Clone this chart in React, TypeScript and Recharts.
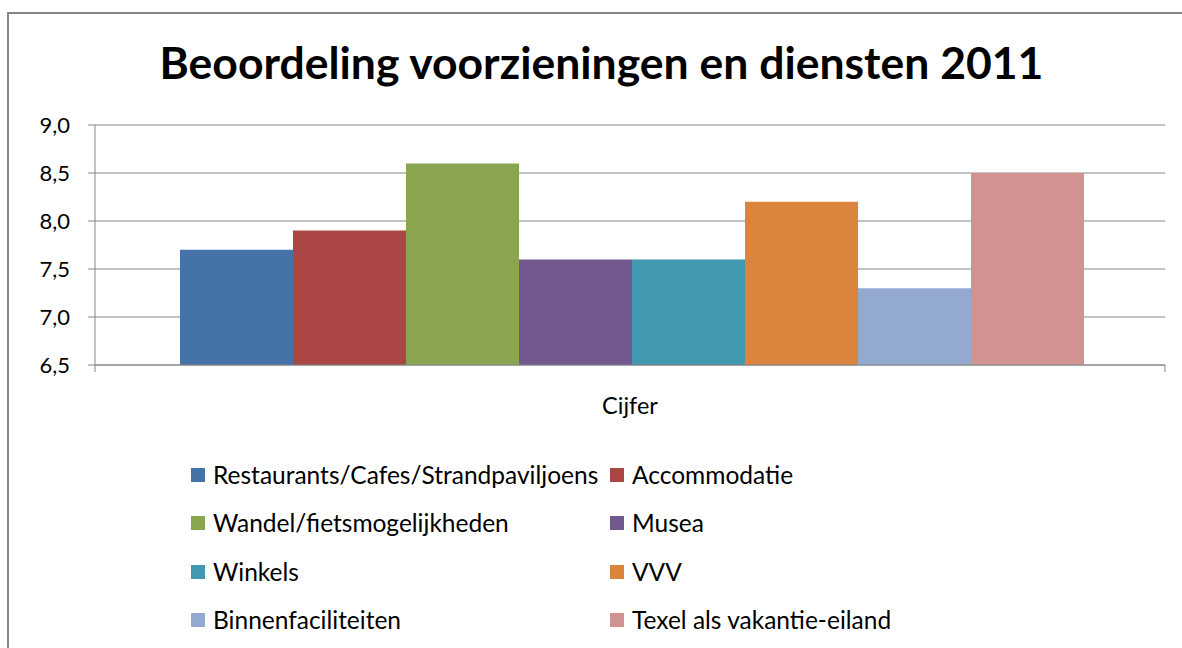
import React from 'react';
import { BarChart, Bar, XAxis, YAxis, CartesianGrid, Legend } from 'recharts';

const categories = ['Cijfer'];
const seriesNames = [
  'Restaurants/Cafes/Strandpaviljoens',
  'Accommodatie',
  'Wandel/fietsmogelijkheden',
  'Musea',
  'Winkels',
  'VVV',
  'Binnenfaciliteiten',
  'Texel als vakantie-eiland',
];
const seriesValues = [7.7, 7.9, 8.6, 7.6, 7.6, 8.2, 7.3, 8.5];
const seriesColors = ['#4572A7', '#AA4643', '#89A54E', '#71588F', '#4198AF', '#DB843D', '#93A9CF', '#D19392'];
const yTicks = [6.5, 7.0, 7.5, 8.0, 8.5, 9.0];
const title = 'Beoordeling voorzieningen en diensten 2011';

const keys = seriesNames.map((_, i) => `s${i}`);
const data = categories.map((c) => {
  const row: Record<string, any> = { name: c };
  keys.forEach((k, i) => {
    row[k] = seriesValues[i];
  });
  return row;
});

const FONT = 'Lato, "Open Sans", sans-serif';
const GRAY = '#868686';
const W = 1182;
const H = 648;

const CategoryTick = (props: any) => {
  const { x, y, payload, width } = props;
  const half = typeof width === 'number' ? width / 2 : 0;
  return (
    <g>
      <line x1={x - half} y1={y} x2={x - half} y2={y + 7} stroke={GRAY} strokeWidth={1} />
      <line x1={x + half} y1={y} x2={x + half} y2={y + 7} stroke={GRAY} strokeWidth={1} />
      <text x={x} y={y + 49} textAnchor="middle" fill="#000" fontSize={23.5} fontFamily={FONT}>
        {payload.value}
      </text>
    </g>
  );
};

const LEG_LEFT = 191;
const LEG_TOP = 460;
const colX = [0, 419];
const rowY = [0, 48.3, 96.6, 144.9];

const LegendContent = (props: any) => {
  const payload = [...(props.payload || [])].sort(
    (a: any, b: any) => seriesNames.indexOf(a.value) - seriesNames.indexOf(b.value)
  );
  return (
    <div style={{ position: 'relative', width: 900, height: 200 }}>
      {payload.map((entry: any, i: number) => (
        <div
          key={i}
          style={{
            position: 'absolute',
            left: colX[i % 2],
            top: rowY[Math.floor(i / 2)],
            height: 30,
            display: 'flex',
            alignItems: 'center',
            whiteSpace: 'nowrap',
          }}
        >
          <span style={{ display: 'inline-block', width: 14, height: 14, background: entry.color, marginRight: 8 }} />
          <span style={{ fontFamily: FONT, fontSize: 24.5, lineHeight: '24px', color: '#000' }}>{entry.value}</span>
        </div>
      ))}
    </div>
  );
};

export default function App() {
  return (
    <div style={{ position: 'fixed', left: 0, top: 0, width: W, height: H, overflow: 'hidden', background: '#fff' }}>
      <div
        style={{
          position: 'absolute',
          left: 7,
          top: 12,
          width: 1200,
          height: 700,
          border: `2px solid ${GRAY}`,
          boxSizing: 'border-box',
        }}
      />
      <div
        style={{
          position: 'absolute',
          left: 0,
          top: 40,
          width: 1203,
          textAlign: 'center',
          fontFamily: FONT,
          fontWeight: 700,
          fontSize: 44.5,
          lineHeight: '44px',
          color: '#000',
          whiteSpace: 'nowrap',
        }}
      >
        {title}
      </div>
      <div style={{ position: 'absolute', left: 0, top: 0 }}>
        <BarChart
          width={W}
          height={H}
          data={data}
          margin={{ top: 125, right: 17, left: 0, bottom: 223 }}
          barGap={0}
          barCategoryGap={85}
        >
          <CartesianGrid vertical={false} stroke={GRAY} strokeWidth={1} />
          <XAxis
            dataKey="name"
            height={60}
            tickLine={false}
            tickSize={0}
            tickMargin={0}
            axisLine={{ stroke: GRAY, strokeWidth: 1 }}
            tick={<CategoryTick />}
          />
          <YAxis
            width={95}
            domain={[6.5, 9]}
            ticks={yTicks}
            interval={0}
            allowDataOverflow
            tickSize={7}
            tickMargin={18}
            tickLine={{ stroke: GRAY }}
            axisLine={{ stroke: GRAY }}
            tickFormatter={(v: number) => v.toFixed(1).replace('.', ',')}
            tick={{ fill: '#000', fontSize: 22, fontFamily: FONT }}
          />
          <Legend
            layout="horizontal"
            verticalAlign="middle"
            align="center"
            wrapperStyle={{ left: LEG_LEFT, top: LEG_TOP, width: 900, height: 200 }}
            content={<LegendContent />}
          />
          {keys.map((k, i) => (
            <Bar key={k} dataKey={k} name={seriesNames[i]} fill={seriesColors[i]} isAnimationActive={false} />
          ))}
        </BarChart>
      </div>
    </div>
  );
}
